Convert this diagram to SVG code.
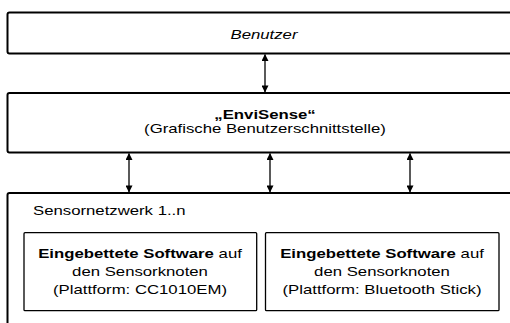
<svg xmlns="http://www.w3.org/2000/svg" width="510" height="323" viewBox="0 0 510 323">
<defs>
<marker id="ah" viewBox="0 0 8 8" refX="7.5" refY="4" markerWidth="7" markerHeight="7" markerUnits="userSpaceOnUse" orient="auto-start-reverse">
<path d="M0,0 L8,4 L0,8 Z" fill="#000"/>
</marker>
<style>
.outer{fill:#fff;stroke:#000;stroke-width:2}
.inner{fill:#fff;stroke:#000;stroke-width:1.3}
.t{font-family:"Liberation Sans",Arial,sans-serif;font-size:12.5px;fill:#000}
.c{text-anchor:middle}
.b{font-weight:bold}
.i{font-style:italic}
.conn{stroke:#000;stroke-width:1.3;fill:none;marker-start:url(#ah);marker-end:url(#ah)}
</style>
</defs>
<rect width="510" height="323" fill="#fff"/>
<g id="benutzer">
<rect class="outer" x="7.5" y="12.5" width="520" height="41" rx="2"/>
<text class="t c i" transform="translate(264 39) scale(1.34 1)">Benutzer</text>
</g>
<g id="envisense">
<rect class="outer" x="7.5" y="93" width="520" height="59.5" rx="2"/>
<text class="t c b" transform="translate(265 119) scale(1.34 1)">„EnviSense“</text>
<text class="t c" transform="translate(265 132.5) scale(1.34 1)">(Grafische Benutzerschnittstelle)</text>
</g>
<g id="sensornetzwerk">
<rect class="outer" x="7.5" y="193" width="520" height="160" rx="2"/>
<text class="t" transform="translate(33 214.5) scale(1.34 1)">Sensornetzwerk 1..n</text>
</g>
<g id="software-cc1010em">
<rect class="inner" x="24" y="232.7" width="232.7" height="78" rx="1"/>
<text class="t c" transform="translate(140 258) scale(1.34 1)"><tspan class="b">Eingebettete Software</tspan> auf</text>
<text class="t c" transform="translate(140 276) scale(1.34 1)">den Sensorknoten</text>
<text class="t c" transform="translate(140 294) scale(1.34 1)">(Plattform: CC1010EM)</text>
</g>
<g id="software-bluetooth">
<rect class="inner" x="265.5" y="232.7" width="233.5" height="78" rx="1"/>
<text class="t c" transform="translate(382 258) scale(1.34 1)"><tspan class="b">Eingebettete Software</tspan> auf</text>
<text class="t c" transform="translate(382 276) scale(1.34 1)">den Sensorknoten</text>
<text class="t c" transform="translate(382 294) scale(1.34 1)">(Plattform: Bluetooth Stick)</text>
</g>
<g id="connectors">
<line class="conn" x1="265" y1="54.5" x2="265" y2="92"/>
<line class="conn" x1="129" y1="153.5" x2="129" y2="192"/>
<line class="conn" x1="270" y1="153.5" x2="270" y2="192"/>
<line class="conn" x1="410" y1="153.5" x2="410" y2="192"/>
</g>
</svg>
